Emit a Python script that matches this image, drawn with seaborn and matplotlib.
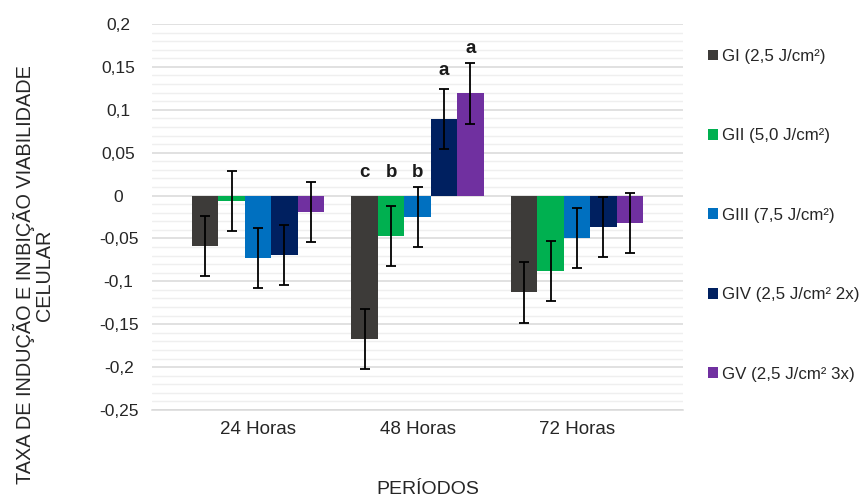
import matplotlib
matplotlib.use("Agg")
import matplotlib.pyplot as plt
import seaborn as sns
import pandas as pd
from matplotlib.ticker import MultipleLocator, FixedLocator

periods = ["24 Horas", "48 Horas", "72 Horas"]
groups = ["GI (2,5 J/cm²)", "GII (5,0 J/cm²)", "GIII (7,5 J/cm²)",
          "GIV (2,5 J/cm² 2x)", "GV (2,5 J/cm² 3x)"]
gi = [-0.059, -0.167, -0.113]
gii = [-0.0066, -0.047, -0.0876]
giii = [-0.0725, -0.025, -0.050]
giv = [-0.069, 0.0888, -0.0367]
gv = [-0.0196, 0.119, -0.0317]
err_gi = [0.035, 0.035, 0.035]
err_gii = [0.035, 0.035, 0.035]
err_giii = [0.035, 0.035, 0.035]
err_giv = [0.035, 0.035, 0.035]
err_gv = [0.035, 0.035, 0.035]
letters_48 = ["c", "b", "b", "a", "a"]
letters_48_y = [0.027, 0.027, 0.027, 0.146, 0.171]
ytick_vals = [0.2, 0.15, 0.1, 0.05, 0, -0.05, -0.1, -0.15, -0.2, -0.25]
ytick_labels = ["0,2", "0,15", "0,1", "0,05", "0", "-0,05", "-0,1", "-0,15", "-0,2", "-0,25"]
colors = ["#3D3B39", "#00B050", "#0070C0", "#002060", "#7030A0"]

series = [gi, gii, giii, giv, gv]
errors = [err_gi, err_gii, err_giii, err_giv, err_gv]
rows = []
for g, vals in zip(groups, series):
    for p, v in zip(periods, vals):
        rows.append({"Período": p, "Grupo": g, "Valor": v})
df = pd.DataFrame(rows)

sns.set_theme(style="white")
plt.rcParams["font.family"] = ["Liberation Sans", "DejaVu Sans"]

fig = plt.figure(figsize=(8.63, 4.97), dpi=100)
ax = fig.add_axes([152 / 863, 1 - 410 / 497, (683 - 152) / 863, (410 - 24) / 497])

sns.barplot(data=df, x="Período", y="Valor", hue="Grupo", order=periods,
            hue_order=groups, palette=colors, width=0.828, errorbar=None,
            saturation=1, linewidth=0, ax=ax, zorder=3)

for cont, errs in zip(ax.containers, errors):
    xs = [p.get_x() + p.get_width() / 2 for p in cont.patches]
    hs = [p.get_height() for p in cont.patches]
    ax.errorbar(xs, hs, yerr=errs, fmt="none", ecolor="black", elinewidth=1.3,
                capsize=3.5, capthick=1.3, zorder=4)

# letters above 48h bars
for cont, lab, ly in zip(ax.containers, letters_48, letters_48_y):
    p = cont.patches[1]
    ax.text(p.get_x() + p.get_width() / 2, ly, lab, ha="center", va="center",
            fontsize=13.5, fontweight="bold", color="#1a1a1a", zorder=5)

ax.set_ylim(-0.25, 0.2)
ax.set_xlim(-0.665, 2.665)
ax.yaxis.set_major_locator(FixedLocator(ytick_vals))
ax.set_yticklabels(ytick_labels)
ax.yaxis.set_minor_locator(MultipleLocator(0.01))
ax.grid(axis="y", which="major", color="#D9D9D9", linewidth=1.1, zorder=0)
ax.grid(axis="y", which="minor", color="#EFEFEF", linewidth=1.0, zorder=0)
ax.set_axisbelow(True)
for s in ["top", "right", "left"]:
    ax.spines[s].set_visible(False)
ax.spines["bottom"].set_position(("data", -0.25))
ax.spines["bottom"].set_color("#D9D9D9")
ax.spines["bottom"].set_linewidth(1.1)
ax.tick_params(axis="y", which="both", length=0, pad=24, labelsize=12.5, labelcolor="#262626")
ax.tick_params(axis="x", length=0, pad=8, labelsize=13.5, labelcolor="#262626")
for t in ax.get_yticklabels():
    t.set_horizontalalignment("center")
ax.set_xlabel("")
ax.set_ylabel("")

fig.text(428 / 863, 1 - 489 / 497, "PERÍODOS", ha="center", va="center",
         fontsize=14, color="#262626")
fig.text(33 / 863, 1 - 275 / 497, "TAXA DE INDUÇÃO E INIBIÇÃO VIABILIDADE\nCELULAR",
         ha="center", va="center", rotation=90, fontsize=14.3, color="#262626",
         multialignment="center", linespacing=1.0)

handles, labels = ax.get_legend_handles_labels()
if ax.legend_:
    ax.legend_.remove()
fig.legend(handles, labels, loc="upper left", bbox_to_anchor=(708 / 863, 1 - 49 / 497),
           frameon=False, fontsize=12.2, handlelength=0.6, handleheight=0.6,
           handletextpad=0.25, labelspacing=3.8, borderaxespad=0, borderpad=0,
           labelcolor="#262626")

fig.savefig("out.png", dpi=100)
